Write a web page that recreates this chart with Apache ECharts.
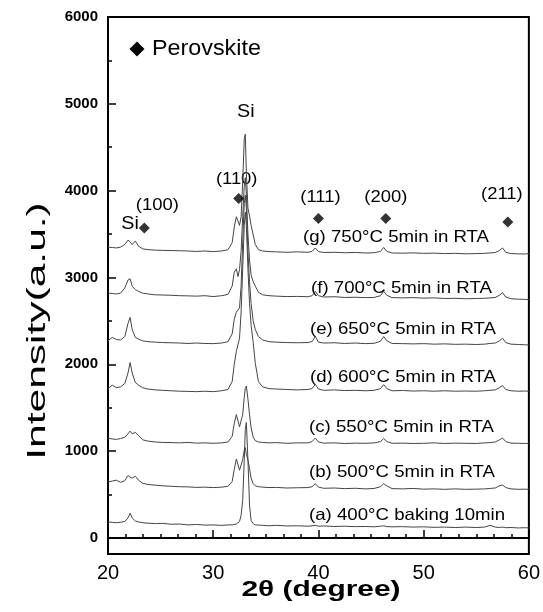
<!DOCTYPE html>
<html><head><meta charset="utf-8">
<script src="https://cdn.jsdelivr.net/npm/echarts@6/dist/echarts.min.js"></script>
<style>html,body{margin:0;padding:0;background:#fff}#c{width:543px;height:612px}</style>
</head><body><div id="c"></div>
<script>
const twoTheta = [20,20.4,20.8,21.2,21.6,21.9,22.1,22.3,22.6,22.9,23.3,23.8,24.5,25.2,26,26.8,27.6,28.4,29.2,30,30.8,31.4,31.8,32.0,32.2,32.35,32.5,32.65,32.8,32.95,33.05,33.15,33.3,33.45,33.6,33.8,34.0,34.3,34.7,35.3,36,37,38,39,39.4,39.7,40.0,40.5,41.5,42.5,43.5,44.5,45.3,45.9,46.2,46.5,47,48,49,50,51,52,53,54,55,55.8,56.3,56.8,57.2,57.5,57.8,58.3,59,59.6,60];

const curveA = [185,180,175,180,190,230,285,230,195,185,175,170,165,168,158,160,150,155,148,150,145,150,150,155,160,170,190,260,430,900,1250,1330,900,380,200,165,150,148,145,140,145,138,140,135,140,145,135,138,132,135,130,132,128,135,140,130,128,130,125,128,122,125,120,125,120,125,145,125,120,125,118,120,115,118,115];
const curveB = [645,655,665,640,660,720,700,690,710,665,630,615,608,600,595,590,588,582,585,580,585,595,650,790,910,900,780,800,900,1010,1040,960,900,800,690,625,600,590,585,580,582,575,578,580,590,625,585,572,575,568,572,565,570,590,625,600,568,565,570,562,565,560,565,560,562,565,570,575,600,610,580,565,560,562,560];
const curveC = [1150,1140,1135,1145,1160,1200,1230,1200,1215,1180,1130,1115,1105,1100,1098,1095,1100,1092,1095,1090,1095,1105,1170,1320,1420,1400,1280,1290,1420,1620,1720,1750,1600,1420,1270,1160,1120,1105,1100,1095,1098,1090,1095,1095,1110,1150,1105,1092,1095,1088,1092,1090,1095,1110,1145,1110,1090,1092,1088,1090,1095,1088,1092,1090,1088,1095,1098,1105,1130,1150,1110,1092,1090,1088,1090];
const curveD = [1720,1760,1730,1740,1780,1900,2020,1900,1790,1760,1730,1715,1705,1700,1695,1690,1688,1685,1690,1685,1695,1710,1800,2000,2150,2170,2300,2600,3100,3600,3750,3600,3100,2700,2450,2250,2010,1800,1740,1720,1715,1710,1705,1710,1720,1770,1715,1700,1705,1698,1700,1695,1700,1720,1765,1720,1695,1698,1692,1695,1690,1695,1690,1692,1690,1695,1700,1705,1730,1755,1710,1695,1690,1692,1690];
const curveE = [2270,2310,2285,2280,2320,2470,2540,2400,2310,2290,2270,2260,2255,2250,2248,2245,2240,2245,2240,2238,2245,2260,2350,2520,2600,2580,2650,2900,3400,3850,3950,3800,3300,2950,2700,2500,2400,2320,2280,2260,2255,2250,2248,2250,2262,2320,2255,2245,2248,2240,2245,2238,2242,2265,2320,2270,2240,2238,2235,2238,2232,2235,2230,2232,2228,2232,2240,2245,2270,2300,2250,2232,2228,2225,2222];
const curveF = [2820,2815,2810,2820,2880,2970,2985,2900,2860,2840,2820,2810,2800,2798,2795,2790,2788,2785,2790,2780,2790,2805,2900,3060,3100,3010,3090,3300,3700,4050,4150,3950,3500,3200,3030,2950,2900,2830,2800,2790,2785,2780,2782,2778,2790,2840,2790,2775,2778,2770,2772,2768,2770,2790,2840,2795,2768,2765,2768,2762,2765,2758,2760,2755,2758,2760,2765,2770,2795,2825,2775,2755,2750,2748,2745];
const curveG = [3350,3345,3340,3350,3380,3430,3410,3380,3420,3360,3330,3320,3315,3312,3310,3308,3305,3300,3305,3298,3305,3320,3400,3580,3700,3690,3600,3700,4100,4600,4650,4200,3800,3710,3600,3490,3380,3320,3305,3298,3295,3290,3295,3290,3300,3340,3298,3288,3290,3285,3288,3282,3285,3300,3345,3300,3282,3280,3283,3278,3280,3275,3278,3272,3275,3278,3282,3288,3310,3340,3290,3275,3272,3270,3275];

const curveLabels = ['(a) 400°C baking 10min','(b) 500°C 5min in RTA','(c) 550°C 5min in RTA','(d) 600°C 5min in RTA','(e) 650°C 5min in RTA','(f) 700°C 5min in RTA','(g) 750°C 5min in RTA'];
const yMajorTicks = [0,1000,2000,3000,4000,5000,6000];
const yMinorTicks = [500,1500,2500,3500,4500,5500];

const peakNames = ['(100)','(110)','(111)','(200)','(211)'];
const peakX = [23.45,32.42,40.0,46.4,58.0];
const peakY = [3570,3910,3680,3680,3640];
const siNames = ['Si','Si'];
const siX = [22.1,33.1];
const siY = [3617,4911];

const FONT = 'Liberation Sans, Arial, sans-serif';
const chart = echarts.init(document.getElementById('c'), null, {renderer:'canvas'});
const curves = [curveA,curveB,curveC,curveD,curveE,curveF,curveG];
const lineSeries = curves.map((c,i)=>({
  type:'line', name:curveLabels[i], data: twoTheta.map((x,j)=>[x,c[j]]),
  showSymbol:false, symbol:'none', lineStyle:{color:'#444', width:1}, silent:true, animation:false
}));
const peakSeries = {
  type:'scatter', symbol:'diamond', symbolSize:11, itemStyle:{color:'#000'}, animation:false,
  data: peakX.map((x,i)=>[x,peakY[i]]), z:5
};

chart.setOption({
  animation:false,
  grid:{left:108,right:13,top:17,bottom:58,show:true,borderColor:'#000',borderWidth:2},
  xAxis:{type:'value',min:20,max:60,interval:10,
    axisLine:{lineStyle:{color:'#000',width:2}},
    axisTick:{inside:true,length:8,lineStyle:{color:'#000',width:1.5}},
    minorTick:{show:true,splitNumber:6,length:4,lineStyle:{color:'#000',width:1.5}},
    axisLabel:{fontSize:20,color:'#000',margin:9,fontFamily:FONT},
    splitLine:{show:false}},
  yAxis:[{type:'value',min:-185,max:6000,
    axisLine:{show:true,lineStyle:{color:'#000',width:2}},
    axisTick:{show:true,inside:true,length:8,customValues:yMajorTicks,lineStyle:{color:'#000',width:1.5}},
    axisLabel:{customValues:yMajorTicks,formatter:v=>String(v),fontSize:15,fontWeight:'bold',color:'#000',margin:10,fontFamily:FONT},
    splitLine:{show:false}},
   {type:'value',min:-185,max:6000,position:'left',
    axisLine:{show:false},
    axisTick:{show:true,inside:true,length:4,customValues:yMinorTicks,lineStyle:{color:'#000',width:1.5}},
    axisLabel:{show:false},splitLine:{show:false}}],
  series:[...lineSeries, peakSeries]
});

const px = (x,y)=>chart.convertToPixel({xAxisIndex:0,yAxisIndex:0},[x,y]);
const labelOffsets = [[13,-22],[-2,-19],[2,-21],[0,-21],[-6,-27]];
const curveLabelPos = [[309,515],[309,472],[309,427],[310,377],[310,329],[311,288],[303,237]];
const txt = (x,y,t,fs,extra)=>Object.assign({type:'text',x:x,y:y,
  style:{text:t,fontSize:fs,fill:'#000',fontFamily:FONT,align:'center',verticalAlign:'middle'}},extra||{});
const g = [];
g.push({type:'polygon',shape:{points:[[137,41.5],[144.5,49],[137,56.5],[129.5,49]]},style:{fill:'#000'}});
g.push({type:'text',x:152,y:49,scaleX:1.06,style:{text:'Perovskite',fontSize:22,fill:'#000',fontFamily:FONT,align:'left',verticalAlign:'middle'}});
peakNames.forEach((n,i)=>{const p=px(peakX[i],peakY[i]);
  g.push(txt(p[0]+labelOffsets[i][0],p[1]+labelOffsets[i][1],n,16,{scaleX:1.15}));});
siNames.forEach((n,i)=>{const p=px(siX[i],siY[i]); g.push(txt(p[0],p[1],n,18,{scaleX:1.1}));});
curveLabels.forEach((t,i)=>{g.push({type:'text',x:curveLabelPos[i][0],y:curveLabelPos[i][1],scaleX:1.13,
  style:{text:t,fontSize:16.5,fill:'#000',fontFamily:FONT,align:'left',verticalAlign:'middle'}});});
g.push({type:'text',x:321,y:590,scaleX:1.36,style:{text:'2θ (degree)',fontSize:22,fontWeight:'bold',fill:'#000',fontFamily:FONT,align:'center',verticalAlign:'middle'}});
g.push({type:'text',x:38,y:331,rotation:Math.PI/2,scaleX:1.7,style:{text:'Intensity(a.u.)',fontSize:25,fill:'#000',fontFamily:FONT,align:'center',verticalAlign:'middle'}});
chart.setOption({graphic:g});
</script></body></html>
